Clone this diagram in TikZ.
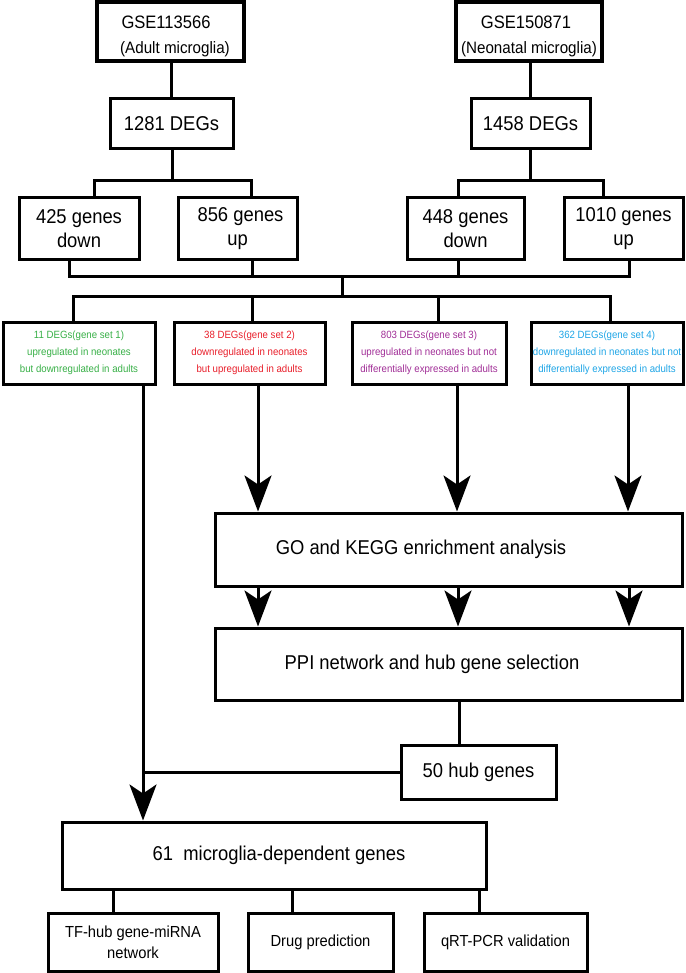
\documentclass[tikz,border=0pt]{standalone}
\usepackage{fontspec}
\setmainfont{Liberation Sans}[FakeStretch=0.92]
\usetikzlibrary{arrows.meta}
\definecolor{cgreen}{RGB}{55,175,70}
\definecolor{cred}{RGB}{232,30,42}
\definecolor{cpurple}{RGB}{160,45,150}
\definecolor{cblue}{RGB}{30,165,230}
\tikzset{
  bx/.style={draw, line width=3pt, inner sep=0pt, align=center, anchor=center},
  bxthick/.style={bx, line width=4pt},
  conn/.style={line width=3pt},
  arr/.style={line width=3pt, -{Stealth[length=36pt, width=27pt, inset=9pt]}},
  big/.style={font=\fontsize{20}{24}\selectfont},
  small/.style={font=\fontsize{10.5}{17}\selectfont},
  mid/.style={font=\fontsize{16}{21}\selectfont}
}
\begin{document}
\begin{tikzpicture}[x=1pt,y=-1pt]
\useasboundingbox (0,0) rectangle (685,973);
% top boxes
\node[bxthick, minimum width=147, minimum height=59] (gseA) at (170.5,31.5) {};
\node[font=\fontsize{18}{20}\selectfont] (gseAt) at (166,22) {GSE113566};
\node[font=\fontsize{16.5}{20}\selectfont] (gseAs) at (175,49) {(Adult microglia)};
\node[bxthick, minimum width=146, minimum height=59] (gseN) at (529,31.5) {};
\node[font=\fontsize{18}{20}\selectfont] (gseNt) at (526,22) {GSE150871};
\node[font=\fontsize{16.5}{20}\selectfont] (gseNs) at (529,49) {(Neonatal microglia)};
% DEG boxes
\node[bx, big, minimum width=123, minimum height=50] (d1281) at (171.5,124) {1281 DEGs};
\node[bx, big, minimum width=119, minimum height=50] (d1458) at (530.5,124) {1458 DEGs};
% gene boxes
\node[bx, big, minimum width=120, minimum height=62] (g425) at (79,229) {425 genes\\ down};
\node[bx, big, minimum width=119, minimum height=62] (g856) at (237.5,229) {\hspace*{6pt}856 genes\\ up};
\node[bx, big, minimum width=117, minimum height=62] (g448) at (465.5,229) {448 genes\\ down};
\node[bx, big, minimum width=119, minimum height=62] (g1010) at (623.5,229) {1010 genes\\ up};
% gene sets
\node[bx, small, text=cgreen, minimum width=152, minimum height=62] (s1) at (79,353) {11 DEGs(gene set 1)\\ upregulated in neonates\\ but downregulated in adults};
\node[bx, small, text=cred, minimum width=151, minimum height=62] (s2) at (249.5,353) {38 DEGs(gene set 2)\\ downregulated in neonates\\ but upregulated in adults};
\node[bx, small, text=cpurple, minimum width=154, minimum height=62] (s3) at (429,353) {803 DEGs(gene set 3)\\ upregulated in neonates but not\\ differentially expressed in adults};
\node[bx, small, text=cblue, minimum width=152, minimum height=62] (s4) at (607,353) {362 DEGs(gene set 4)\\ downregulated in neonates but not\\ differentially expressed in adults};
% analysis boxes
\node[bx, minimum width=467, minimum height=73] (go) at (448.5,549.5) {};
\node[big] (got) at (421,549) {GO and KEGG enrichment analysis};
\node[bx, minimum width=467, minimum height=72] (ppi) at (448.5,664) {};
\node[big] (ppit) at (432,664) {PPI network and hub gene selection};
\node[bx, big, minimum width=155, minimum height=54] (hub) at (478.5,772) {50 hub genes};
\node[bx, minimum width=424, minimum height=67] (m61) at (274,855.5) {};
\node[big] (m61t) at (279,855) {61\ \ microglia-dependent genes};
\node[bx, mid, minimum width=170, minimum height=58] (tf) at (133,942) {TF-hub gene-miRNA\\ network};
\node[bx, mid, minimum width=145, minimum height=58] (drug) at (320.5,942) {Drug prediction};
\node[bx, mid, minimum width=163, minimum height=58] (qrt) at (505.5,942) {qRT-PCR validation};
% junction coordinates
\coordinate (jA) at (172,181);
\coordinate (jN) at (530.5,181);
\coordinate (jL) at (342,277);
\coordinate (jS) at (342,296);
\coordinate (jH) at (143,772);
% top connectors
\draw[conn] (gseA.south -| d1281.north) -- (d1281.north);
\draw[conn] (gseN.south -| d1458.north) -- (d1458.north);
\draw[conn] (d1281.south -| jA) -- (jA);
\draw[conn] (g425.north -| 94,0) |- (jA) -| (g856.north -| 251,0);
\draw[conn] (d1458.south) -- (jN);
\draw[conn] (g448.north -| 458,0) |- (jN) -| (g1010.north -| 603,0);
% collecting bracket
\draw[conn] (g425.south -| 69,0) |- (jL) -| (g1010.south -| 629,0);
\draw[conn] (g856.south -| 252,0) -- (252,277);
\draw[conn] (g448.south -| 458,0) -- (458,277);
\draw[conn] (jL) -- (jS);
\draw[conn] (s1.north -| 73,0) |- (jS) -| (s4.north -| 610,0);
\draw[conn] (s2.north -| 252,0) -- (252,296);
\draw[conn] (s3.north -| 438,0) -- (438,296);
% arrows to GO
\draw[arr] (s2.south -| 258,0) -- (go.north -| 258,0);
\draw[arr] (s3.south -| 457,0) -- (go.north -| 457,0);
\draw[arr] (s4.south -| 628,0) -- (go.north -| 628,0);
% arrows GO to PPI
\draw[arr] (go.south -| 258,0) -- (ppi.north -| 258,0);
\draw[arr] (go.south -| 458,0) -- (ppi.north -| 458,0);
\draw[arr] (go.south -| 629,0) -- (ppi.north -| 629,0);
% PPI to hub
\draw[conn] (ppi.south -| 459,0) -- (hub.north -| 459,0);
\draw[conn] (hub.west) -- (jH);
% set1 to 61
\draw[arr] (s1.south -| 143,0) -- (m61.north -| 143,0);
% 61 to outputs
\draw[conn] (m61.south -| 113,0) -- (tf.north -| 113,0);
\draw[conn] (m61.south -| 292,0) -- (drug.north -| 292,0);
\draw[conn] (m61.south -| 479,0) -- (qrt.north -| 479,0);
\end{tikzpicture}
\end{document}
